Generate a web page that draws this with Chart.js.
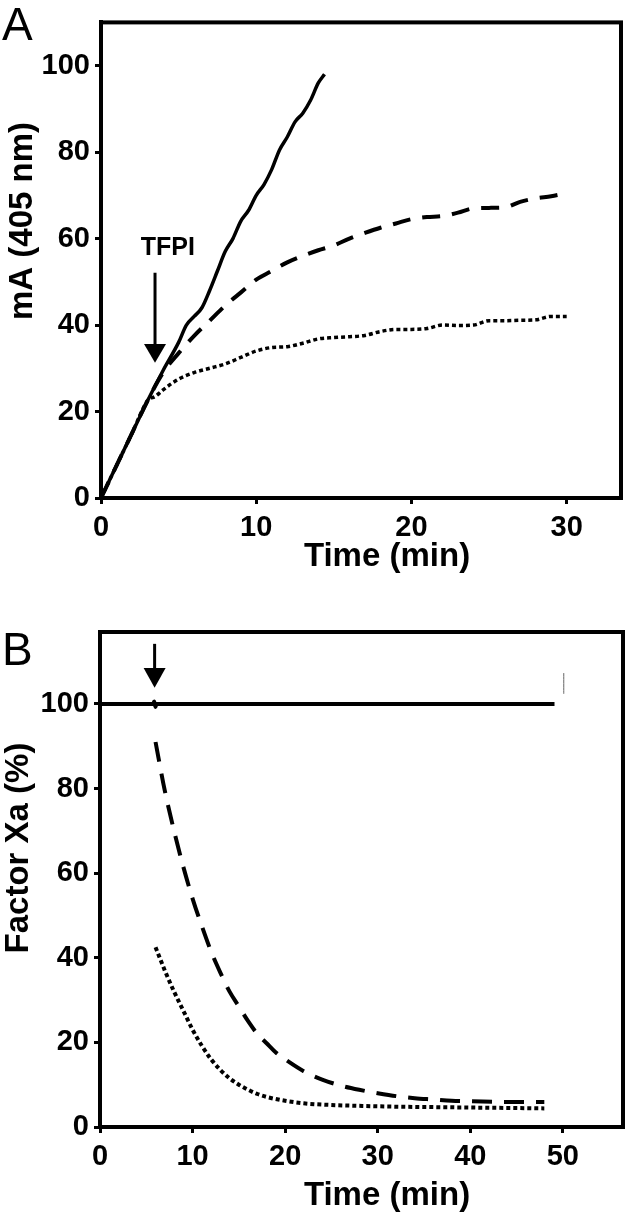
<!DOCTYPE html>
<html>
<head>
<meta charset="utf-8">
<script src="https://cdn.jsdelivr.net/npm/chart.js@4"></script>
<style>
  body { margin: 0; background: #fff; }
  #wrap { position: relative; width: 625px; height: 1221px; }
  canvas { position: absolute; left: 0; }
</style>
</head>
<body>
<div id="wrap">
  <canvas id="chartA" width="625" height="600" style="top:0"></canvas>
  <canvas id="chartB" width="625" height="621" style="top:600px"></canvas>
</div>
<script>
// Panel A: absorbance (mA at 405 nm) vs time
const timeA_none = [0, 1, 2, 3, 4, 5, 5.5, 6, 6.5, 7, 7.5, 8, 8.5, 9, 9.5, 10, 10.5, 11, 11.5, 12, 12.5, 13, 13.5, 14, 14.4];
const absA_none = [0, 7.5, 15, 22.5, 29.5, 36, 40, 42, 44, 48, 52.5, 57, 60, 64, 66.5, 70, 72.5, 76, 80.5, 83.5, 87, 89, 92, 96, 98];
const timeA_low = [0, 1, 2, 3, 4, 5, 6, 7, 8, 9, 10, 11, 12, 13, 14, 15, 16, 17, 18, 19, 20, 21, 22, 23, 24, 25, 26, 27, 28, 29, 30];
const absA_low = [0, 7.5, 15, 22.5, 29, 33.5, 37.5, 41, 44.5, 47.5, 50.5, 52.5, 54.5, 56, 57.3, 58.4, 60, 61.3, 62.5, 63.5, 64.5, 65, 65.2, 66, 67, 67.1, 67.2, 68.5, 69.3, 69.8, 70.5];
const timeA_high = [0, 1, 2, 3, 3.5, 4, 5, 6, 7, 8, 9, 10, 11, 12, 13, 14, 15, 16, 17, 18, 19, 20, 21, 22, 23, 24, 25, 26, 27, 28, 29, 30];
const absA_high = [0, 7.5, 15, 22.5, 23.5, 25, 27.5, 29, 30, 31, 32.5, 34, 34.8, 35, 35.8, 36.8, 37.1, 37.3, 37.6, 38.5, 39, 39, 39.2, 40, 39.9, 40, 41, 41, 41.1, 41.2, 42, 42];

// Panel B: remaining factor Xa (%) vs time
const timeB_none = [0, 5.75, 5.85, 6.0, 6.1, 49.1];
const xaB_none = [100, 100, 100.6, 99.3, 100, 100];
const timeB_low = [6, 7, 8, 9, 10, 11, 12, 13, 14, 15, 16, 17, 18, 19, 20, 22, 24, 26, 28, 30, 32, 34, 36, 38, 40, 44, 48];
const xaB_low = [91, 79.5, 70, 61.5, 54, 47.5, 41.5, 36.5, 32, 28.5, 25, 22, 19.8, 17.6, 16, 13.2, 11.2, 9.8, 8.8, 8, 7.3, 6.8, 6.5, 6.2, 6.1, 5.9, 5.9];
const timeB_high = [6, 7, 8, 9, 10, 11, 12, 13, 14, 15, 16, 17, 18, 20, 22, 25, 28, 32, 36, 40, 44, 48];
const xaB_high = [42.5, 37, 32, 27.5, 23, 19.2, 16, 13.5, 11.5, 10, 8.8, 7.8, 7.1, 6.2, 5.6, 5.2, 5, 4.8, 4.7, 4.6, 4.5, 4.4];
const timeB_mark = [50.1, 50.1];
const xaB_mark = [102.4, 107.3];

const FONT = '"Liberation Sans", Arial, Helvetica, sans-serif';
Chart.defaults.font.family = FONT;
Chart.defaults.color = '#000';

function pts(xs, ys) {
  return xs.map((x, i) => ({ x: x, y: ys[i] }));
}

function line(xs, ys, width, dash, color) {
  return {
    data: pts(xs, ys),
    borderColor: color || '#000',
    borderWidth: width,
    borderDash: dash,
    borderCapStyle: 'butt',
    pointRadius: 0,
    fill: false,
    cubicInterpolationMode: 'monotone',
  };
}

function axes(xMax, yMax, yWidth, xHeight) {
  const grid = { drawOnChartArea: false, color: '#000', lineWidth: 3, tickLength: 6 };
  const border = { display: true, color: '#000', width: 4 };
  return {
    x: {
      type: 'linear', min: 0, max: xMax,
      afterFit: s => { s.height = xHeight; },
      ticks: { stepSize: 10, includeBounds: false, maxRotation: 0, padding: 7, color: '#000',
        font: { size: 29, weight: 'bold' } },
      grid: grid, border: border,
    },
    y: {
      type: 'linear', min: 0, max: yMax,
      afterFit: s => { s.width = yWidth; },
      ticks: { stepSize: 20, includeBounds: false, padding: 5, color: '#000',
        font: { size: 29, weight: 'bold' } },
      grid: grid, border: border,
    },
  };
}

// frame, panel letter, axis titles and the arrow
const extras = {
  id: 'extras',
  afterDraw(chart, args, o) {
    const { ctx, chartArea: a, scales: { x, y } } = chart;
    ctx.save();
    ctx.strokeStyle = '#000';
    ctx.fillStyle = '#000';
    ctx.lineWidth = 4;
    ctx.strokeRect(a.left, a.top, a.right - a.left, a.bottom - a.top);

    ctx.font = '46px ' + FONT;
    ctx.textAlign = 'left';
    ctx.textBaseline = 'alphabetic';
    ctx.fillText(o.label, o.labelX, o.labelY);

    ctx.font = 'bold 33px ' + FONT;
    ctx.textAlign = 'center';
    ctx.textBaseline = 'middle';
    ctx.fillText(o.xTitle, o.xTitleX, o.xTitleY);
    ctx.save();
    ctx.translate(o.yTitleX, o.yTitleY);
    ctx.rotate(-Math.PI / 2);
    ctx.fillText(o.yTitle, 0, 0);
    ctx.restore();

    const ar = o.arrow;
    const ax = x.getPixelForValue(ar.x);
    const top = y.getPixelForValue(ar.from);
    const head = y.getPixelForValue(ar.head);
    const tip = y.getPixelForValue(ar.to);
    ctx.lineWidth = 3;
    ctx.beginPath();
    ctx.moveTo(ax, top);
    ctx.lineTo(ax, head + 1);
    ctx.stroke();
    ctx.beginPath();
    ctx.moveTo(ax - 11, head);
    ctx.lineTo(ax + 11, head);
    ctx.lineTo(ax, tip);
    ctx.closePath();
    ctx.fill();

    if (o.note) {
      ctx.font = 'bold 25px ' + FONT;
      ctx.fillText(o.note.text, x.getPixelForValue(o.note.x), y.getPixelForValue(o.note.y));
    }
    ctx.restore();
  }
};

new Chart(document.getElementById('chartA'), {
  type: 'line',
  plugins: [extras],
  data: {
    datasets: [
      line(timeA_high, absA_high, 3.5, [4, 3]),
      line(timeA_low, absA_low, 4, [18, 12]),
      line(timeA_none, absA_none, 3.5, []),
    ]
  },
  options: {
    responsive: false,
    animation: false,
    layout: { padding: { top: 5, right: 4, left: 0, bottom: 0 } },
    scales: axes(33.5, 110, 101, 102),
    plugins: {
      legend: { display: false },
      tooltip: { enabled: false },
      extras: {
        label: 'A', labelX: 2, labelY: 40,
        xTitle: 'Time (min)', xTitleX: 387, xTitleY: 557,
        yTitle: 'mA (405 nm)', yTitleX: 23, yTitleY: 221,
        arrow: { x: 3.48, from: 52.1, head: 35.6, to: 31.3 },
        note: { text: 'TFPI', x: 4.3, y: 57.7 },
      }
    }
  }
});

new Chart(document.getElementById('chartB'), {
  type: 'line',
  plugins: [extras],
  data: {
    datasets: [
      line(timeB_high, xaB_high, 4, [4, 3]),
      line(timeB_low, xaB_low, 4, [20, 12]),
      line(timeB_none, xaB_none, 4, []),
      line(timeB_mark, xaB_mark, 1, [], '#666'),
    ]
  },
  options: {
    responsive: false,
    animation: false,
    layout: { padding: { top: 32, right: 2, left: 0, bottom: 0 } },
    scales: axes(56.5, 117, 100, 94),
    plugins: {
      legend: { display: false },
      tooltip: { enabled: false },
      extras: {
        label: 'B', labelX: 2, labelY: 65,
        xTitle: 'Time (min)', xTitleX: 387, xTitleY: 596,
        yTitle: 'Factor Xa (%)', yTitleX: 19, yTitleY: 248,
        arrow: { x: 5.9, from: 114.2, head: 108.5, to: 103.8 },
      }
    }
  }
});
</script>
</body>
</html>
